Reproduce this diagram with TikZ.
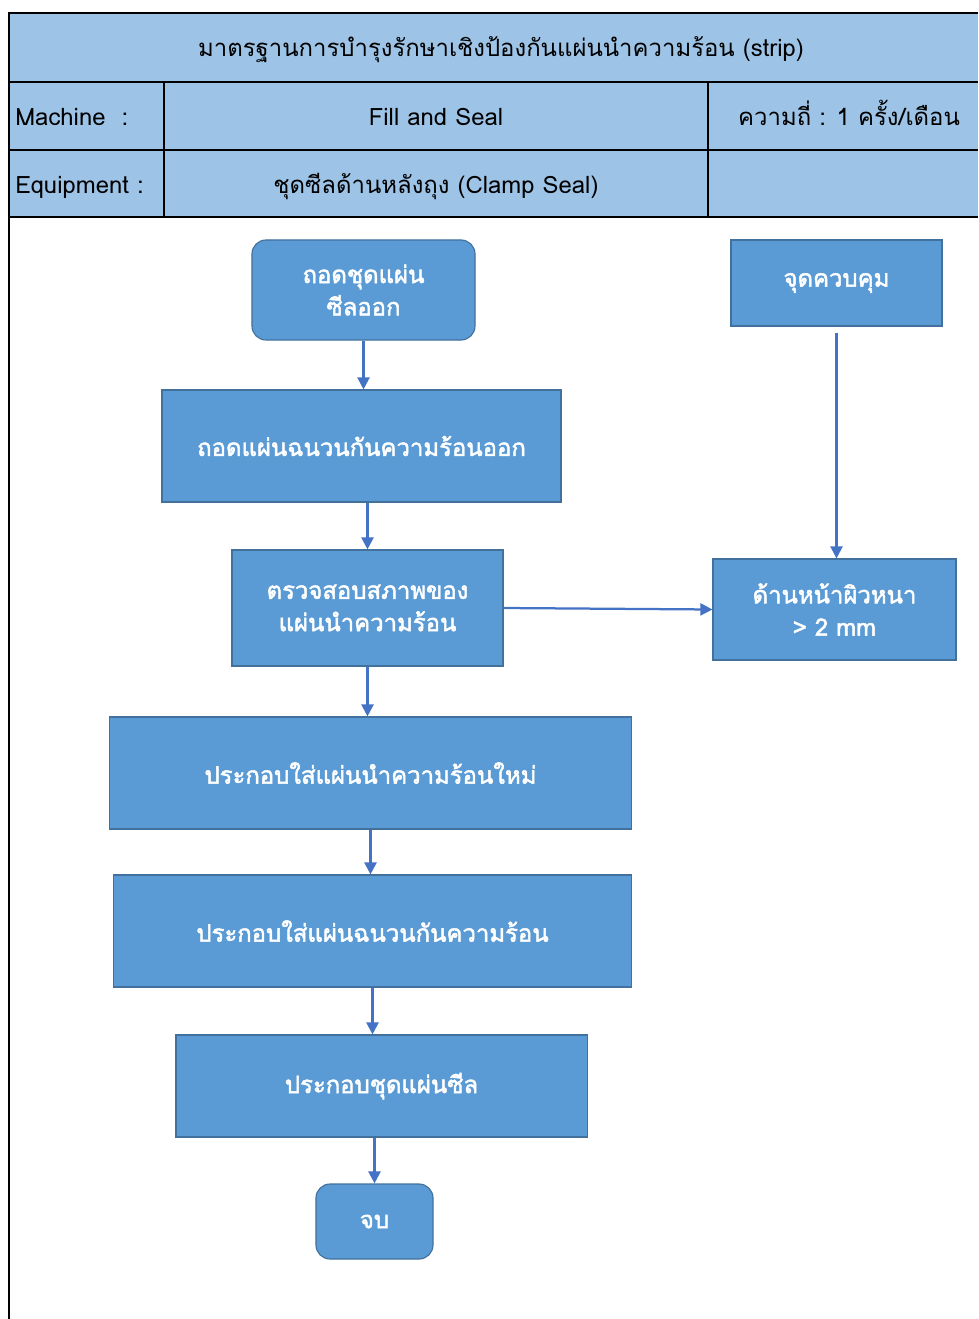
\documentclass[tikz,border=0pt]{standalone}
\usepackage{fontspec}
\setmainfont[Script=Thai, AutoFakeBold=2]{Loma}
\usetikzlibrary{arrows.meta,positioning}
\definecolor{hdrblue}{HTML}{9DC3E6}
\definecolor{boxblue}{HTML}{5B9BD5}
\definecolor{boxedge}{HTML}{41719C}
\definecolor{flowblue}{HTML}{4472C4}

\begin{document}
\begin{tikzpicture}[x=0.025cm, y=-0.025cm,
	hdrtext/.style={font=\fontsize{17}{20}\selectfont, inner sep=0pt, text height=13pt, text depth=0pt},
	stepbox/.style={draw=boxedge, fill=boxblue, text=white, align=center, line width=0.8pt, font=\bfseries\fontsize{17}{23}\selectfont},
	endbox/.style={stepbox, rounded corners=10pt},
	flow/.style={draw=flowblue, line width=1.6pt, -{Triangle[length=3mm, width=3mm]}}]
	\useasboundingbox (0,0) rectangle (978,1319);
	% header table
	\fill[hdrblue] (9,13) rectangle (978,217);
	\draw[line width=1pt] (9,82) -- (978,82) (9,150) -- (978,150);
	\draw[line width=1pt] (164,82) -- (164,217) (708,82) -- (708,217);
	\draw[line width=2pt] (8,13) -- (978,13) (8,217) -- (978,217);
	\draw[line width=2pt] (9,12) -- (9,1319);
	\node[hdrtext] (title) at (501,47) {มาตรฐานการบำรุงรักษาเชิงป้องกันแผ่นนำความร้อน (strip)};
	\node[hdrtext, anchor=west] (mach) at (15,116) {Machine~~:};
	\node[hdrtext] (machval) at (436,116) {Fill and Seal};
	\node[hdrtext] (freq) at (849,116) {ความถี่ : 1 ครั้ง/เดือน};
	\node[hdrtext, anchor=west] (equip) at (15,184) {Equipment :};
	\node[hdrtext] (equipval) at (436,184) {ชุดซีลด้านหลังถุง (Clamp Seal)};
	% flow boxes
	\node[endbox, minimum width=5.575cm, minimum height=2.5cm] (start) at (363.5,290) {ถอดชุดแผ่น\\ซีลออก};
	\node[stepbox, minimum width=5.275cm, minimum height=2.15cm] (ctrl) at (836.5,283) {จุดควบคุม};
	\node[stepbox, minimum width=9.975cm, minimum height=2.8cm] (strip) at (361.5,446) {ถอดแผ่นฉนวนกันความร้อนออก};
	\node[stepbox, minimum width=6.775cm, minimum height=2.9cm] (check) at (367.5,608) {ตรวจสอบสภาพของ\\แผ่นนำความร้อน};
	\node[stepbox, minimum width=6.075cm, minimum height=2.525cm] (limit) at (834.5,609.5) {ด้านหน้าผิวหนา\\> 2 mm};
	\node[stepbox, minimum width=13.025cm, minimum height=2.8cm] (newplate) at (370.5,773) {ประกอบใส่แผ่นนำความร้อนใหม่};
	\node[stepbox, minimum width=12.925cm, minimum height=2.8cm] (insul) at (372.5,931) {ประกอบใส่แผ่นฉนวนกันความร้อน};
	\node[stepbox, minimum width=10.275cm, minimum height=2.55cm] (seal) at (381.5,1086) {ประกอบชุดแผ่นซีล};
	\node[endbox, minimum width=2.925cm, minimum height=1.875cm] (finish) at (374.5,1221.5) {จบ};
	% connectors
	\draw[flow] (start.south) -- (start.south |- strip.north);
	\draw[flow] (strip.south -| check.north) -- (check.north);
	\draw[flow] (check.south) -- (check.south |- newplate.north);
	\draw[flow] (newplate.south) -- (newplate.south |- insul.north);
	\draw[flow] (insul.south) -- (insul.south |- seal.north);
	\draw[flow] (seal.south -| finish.north) -- (finish.north);
	\draw[flow, shorten <=0.15cm] (ctrl.south) -- (ctrl.south |- limit.north);
	\draw[flow] (check.east) -- (limit.west);
\end{tikzpicture}
\end{document}
